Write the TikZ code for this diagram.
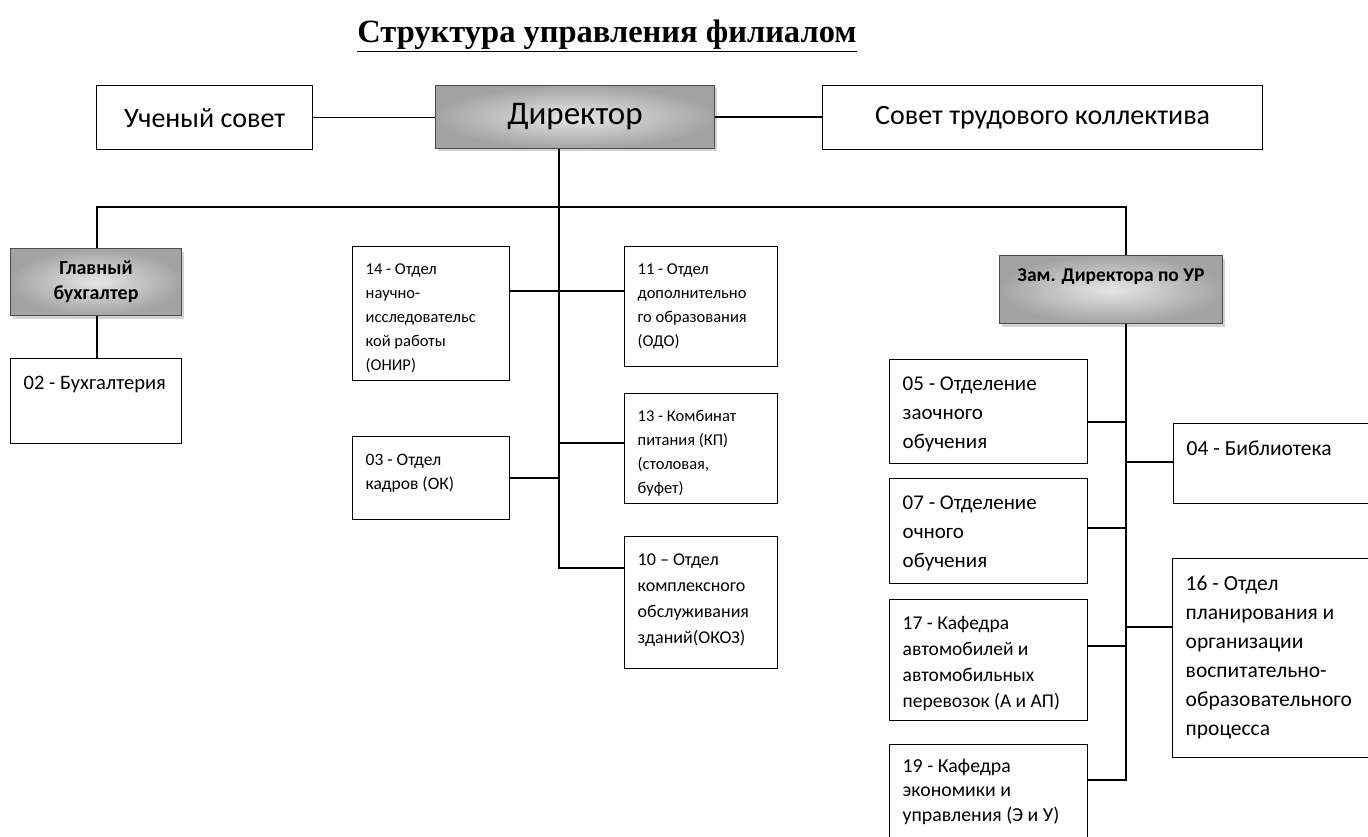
\documentclass[tikz,border=0pt]{standalone}
\usepackage{fontspec}
\setmainfont{Carlito}
\newfontfamily\titlefont{Liberation Serif}
\usetikzlibrary{shadows}

% text block of a box: width, height, text (top left)
\newcommand\boxtxt[3]{\parbox[c][\dimexpr#2pt-34pt\relax][t]{\dimexpr#1pt-26pt\relax}{#3}}

\tikzset{
	dept/.style = {draw, line width = 1.4pt, anchor = north west, inner xsep = 13pt, inner ysep = 17pt,
		font = \fontsize{16.5}{24}\selectfont},
	deptbig/.style = {dept, font = \fontsize{21.5}{29}\selectfont},
	council/.style = {draw, line width = 1.4pt, anchor = north west, minimum height = 64pt,
		font = \fontsize{28}{32}\selectfont},
	head/.style = {draw = gray!60!black, line width = 1pt, anchor = north west, shading = radial,
		inner color = gray!20, outer color = gray!72,
		drop shadow = {opacity = 0.35, shadow xshift = 2pt, shadow yshift = -3pt}},
	link/.style = {line width = 1.1pt}
}

\begin{document}
\begin{tikzpicture}[x = 1pt, y = -1pt]
	\useasboundingbox (0,0) rectangle (1368,837);
	\clip (0,0) rectangle (1368,837);

	\node (title) at (607,36) {\titlefont\bfseries\fontsize{32.5}{35}\selectfont\underline{Структура управления филиалом}};

	% top row
	\node [council, minimum width = 216pt] (uch) at (96,85) {Ученый совет};
	\node [head, minimum width = 279pt, minimum height = 63pt, font = \fontsize{33}{36}\selectfont] (dir) at (435,85) {Директор};
	\node [council, minimum width = 440pt] (sov) at (822,85) {Совет трудового коллектива};

	\draw [link] (uch.east) -- (uch.east -| dir.west);
	\draw [link] (dir.east) -- (dir.east -| sov.west);

	% left branch
	\node [head, minimum width = 171pt, minimum height = 67pt, align = center,
		font = \bfseries\fontsize{20}{25}\selectfont] (gb) at (10,248) {Главный\\бухгалтер};
	\node [deptbig, font = \fontsize{20.5}{28}\selectfont] (b02) at (10,358) {\boxtxt{171}{85}{02 - Бухгалтерия}};

	% middle branch
	\node [dept] (n14) at (352,246) {\boxtxt{157}{134}{14 - Отдел\\научно-\\исследовательс\\кой работы\\(ОНИР)}};
	\node [dept] (n11) at (624,246) {\boxtxt{153}{120}{11 - Отдел\\дополнительно\\го образования\\(ОДО)}};
	\node [dept] (n13) at (624,393) {\boxtxt{153}{110}{13 - Комбинат\\питания (КП)\\(столовая,\\буфет)}};
	\node [dept, font = \fontsize{17.5}{24}\selectfont] (n03) at (352,436) {\boxtxt{157}{83}{03 - Отдел\\кадров (ОК)}};
	\node [dept, font = \fontsize{18}{26}\selectfont] (n10) at (624,536) {\boxtxt{153}{132}{10 – Отдел\\комплексного\\обслуживания\\зданий(ОКОЗ)}};

	% right branch
	\node [head, minimum width = 223pt, minimum height = 68pt, inner sep = 0pt] (zam) at (999,255)
		{\parbox[c][68pt][t]{223pt}{\centering\vspace{13pt}\bfseries\fontsize{19.5}{22}\selectfont Зам. Директора по УР}};
	\node [deptbig, font = \fontsize{21}{29}\selectfont] (n05) at (889,359) {\boxtxt{198}{104}{05 - Отделение\\заочного\\обучения}};
	\node [deptbig, font = \fontsize{21}{29}\selectfont] (n07) at (889,478) {\boxtxt{198}{105}{07 - Отделение\\очного\\обучения}};
	\node [deptbig, font = \fontsize{19.5}{26}\selectfont] (n17) at (889,599) {\boxtxt{198}{121}{17 - Кафедра\\автомобилей и\\автомобильных\\перевозок (А и АП)}};
	\node [deptbig, font = \fontsize{19.8}{24.5}\selectfont, inner ysep = 14pt] (n19) at (889,744) {\boxtxt{198}{120}{19 - Кафедра\\экономики и\\управления (Э и У)}};
	\node [deptbig] (n04) at (1173,423) {\boxtxt{220}{80}{04 - Библиотека}};
	\node [deptbig] (n16) at (1172,558) {\boxtxt{220}{199}{16 - Отдел\\планирования и\\организации\\воспитательно-\\образовательного\\процесса}};

	% bus
	\coordinate (busL) at (97,207);
	\coordinate (busR) at (1126,207);
	\coordinate (mid) at (559,207);
	\draw [link] (gb.north -| busL) -- (busL) -- (busR) -- (zam.north -| busR);
	\draw [link] (dir.south -| mid) -- (mid |- 0,568) -- (n10.west |- 0,568);
	\draw [link] (gb.south -| busL) -- (b02.north -| busL);

	\draw [link] (n14.east |- 0,291) -- (n11.west |- 0,291);
	\draw [link] (mid |- 0,443) -- (n13.west |- 0,443);
	\draw [link] (n03.east |- 0,478) -- (mid |- 0,478);

	\draw [link] (zam.south -| busR) -- (busR |- 0,780) -- (n19.east |- 0,780);
	\draw [link] (n05.east |- 0,422) -- (busR |- 0,422);
	\draw [link] (busR |- 0,462) -- (n04.west |- 0,462);
	\draw [link] (n07.east |- 0,528) -- (busR |- 0,528);
	\draw [link] (busR |- 0,627) -- (n16.west |- 0,627);
	\draw [link] (n17.east |- 0,646) -- (busR |- 0,646);
\end{tikzpicture}
\end{document}
